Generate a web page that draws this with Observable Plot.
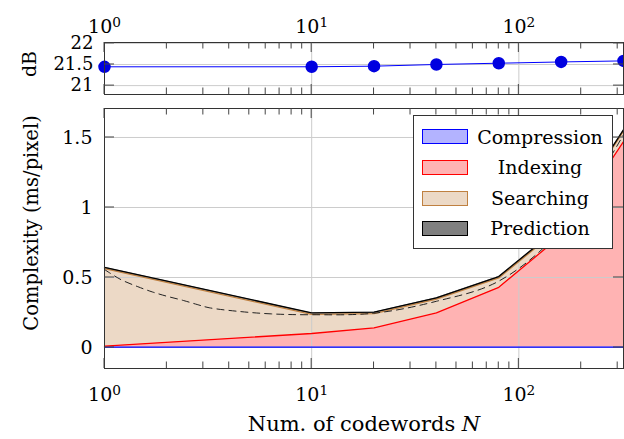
<!DOCTYPE html>
<html><head><meta charset="utf-8">
<script src="https://cdn.jsdelivr.net/npm/d3@7"></script>
<script src="https://cdn.jsdelivr.net/npm/@observablehq/plot@0.6"></script>
<style>
body{margin:0;background:#fff;}
#wrap{position:relative;width:624px;height:439px;overflow:hidden;font-family:"DejaVu Serif";background:#fff;}
#wrap svg{display:block;}
.legend{position:absolute;left:413px;top:115px;width:200px;height:134px;box-sizing:border-box;border:1px solid #333;background:#fff;}
.legend .row{position:absolute;left:0;width:100%;height:30px;}
.legend .sw{position:absolute;left:8px;top:7.5px;width:46px;height:15px;box-sizing:border-box;border:1.2px solid;}
.legend .lab{position:absolute;left:54px;right:0;top:0;height:30px;line-height:30px;text-align:center;font-size:19px;color:#000;}
.caption{position:absolute;left:0;top:410px;width:624px;height:29px;}
.caption span{position:absolute;left:364px;transform:translateX(-50%);top:0;font-size:21px;line-height:29px;white-space:nowrap;}
</style></head>
<body><div id="wrap"></div>
<script>
// ---- data ----
const N = [1, 10, 20, 40, 80, 160, 320];
const psnrDB = [21.445, 21.446, 21.46, 21.50, 21.53, 21.56, 21.585];
const compression = [0.003, 0.003, 0.003, 0.003, 0.003, 0.003, 0.003];
const indexing    = [0.007, 0.097, 0.137, 0.244, 0.427, 0.797, 1.467];
const searching   = [0.553, 0.137, 0.102, 0.098, 0.067, 0.060, 0.075];
const prediction  = [0.010, 0.010, 0.010, 0.010, 0.010, 0.010, 0.010];
const seriesNames = ["Compression", "Indexing", "Searching", "Prediction"];
const dashedN = [1, 1.2, 1.45, 1.7, 2, 2.4, 2.8, 3.2, 4.5, 6.4, 10, 20, 40, 80, 160, 320];
const dashedV = [0.557, 0.485, 0.434, 0.397, 0.366, 0.336, 0.307, 0.284, 0.257, 0.240, 0.234, 0.245, 0.33, 0.474, 0.84, 1.52];
const xMajor = [1, 10, 100];
const xMinor = [2,3,4,5,6,7,8,9,20,30,40,50,60,70,80,90,200,300];
const dbTicks = [21, 21.5, 22];
const cTicks = [0, 0.5, 1, 1.5];

const fillOf = {Compression:"#b3b3ff", Indexing:"#ffb3b3", Searching:"#ecd9c6", Prediction:"#808080"};
const strokeOf = {Compression:"#0000ff", Indexing:"#ff0000", Searching:"#bf8040", Prediction:"#000000"};

const FONT = '"DejaVu Serif"';
const FS = 19;
const GRID = "#cccccc";
const wrap = document.getElementById("wrap");

function addInwardTicks(svg, plot, yTicks) {
  const x = plot.scale("x"), y = plot.scale("y");
  const [yb, yt] = y.range, [xl, xr] = x.range;
  const g = d3.select(svg).append("g").attr("stroke", "#444").attr("stroke-width", 1).attr("fill", "none");
  const seg = (x1, y1, x2, y2) => g.append("line").attr("x1", x1).attr("y1", y1).attr("x2", x2).attr("y2", y2);
  xMinor.forEach(v => { const p = x.apply(v); seg(p, yt, p, yt + 6.5); seg(p, yb, p, yb - 6.5); });
  xMajor.forEach(v => { const p = x.apply(v); seg(p, yt, p, yt + 10); seg(p, yb, p, yb - 10); });
  yTicks.forEach(v => { const p = y.apply(v); seg(xl, p, xl + 10, p); seg(xr, p, xr - 10, p); });
}
function superscriptX(svg, shift) {
  d3.select(svg).selectAll('g[aria-label="x-axis tick label"]').attr("transform", function () {
    const t = this.getAttribute("transform") || "";
    return t + ` translate(0,${shift})`;
  });
  d3.select(svg).selectAll('g[aria-label="x-axis tick label"] text').each(function () {
    const e = this.textContent;
    const t = d3.select(this);
    t.text("10");
    t.append("tspan").attr("dy", "-0.42em").attr("font-size", "0.72em").text(e);
  });
}

// ---- top panel (dB) ----
const topRows = N.map((n, i) => ({N: n, dB: psnrDB[i]}));
const topPlot = Plot.plot({
  width: 624, height: 96, marginTop: 42, marginBottom: 2, marginLeft: 104, marginRight: 1,
  style: {fontFamily: FONT, fontSize: FS + "px", background: "white", overflow: "visible", color: "#000"},
  x: {type: "log", domain: [1, 320]},
  y: {domain: [20.79, 22.02]},
  marks: [
    Plot.gridX(xMajor, {stroke: GRID, strokeOpacity: 1}),
    Plot.gridY(dbTicks, {stroke: GRID, strokeOpacity: 1}),
    Plot.line(topRows, {x: "N", y: "dB", stroke: "#0000ff", strokeWidth: 1}),
    Plot.dot(topRows, {x: "N", y: "dB", r: 5.5, fill: "#0000e0", stroke: "#0000e0"}),
    Plot.axisY({ticks: dbTicks, tickSize: 0, tickPadding: 11, fontSize: 18, label: null, tickFormat: d => String(d)}),
    Plot.axisX({anchor: "top", ticks: xMajor, tickSize: 0, tickPadding: 10, fontSize: FS, label: null,
      tickFormat: d => String(Math.round(Math.log10(d)))}),
    Plot.frame({stroke: "#333", strokeWidth: 1})
  ]
});
addInwardTicks(topPlot, topPlot, dbTicks);
superscriptX(topPlot, 0);
d3.select(topPlot).append("text").attr("transform", "translate(36,64) rotate(-90)")
  .attr("text-anchor", "middle").attr("font-size", FS).attr("fill", "#000").text("dB");
wrap.appendChild(topPlot);

// ---- bottom panel (complexity) ----
const series = [compression, indexing, searching, prediction];
const rows = [];
seriesNames.forEach((s, k) => N.forEach((n, i) => rows.push({N: n, series: s, value: series[k][i]})));
const dashRows = dashedN.map((n, i) => ({N: n, v: dashedV[i]}));

const botPlot = Plot.plot({
  width: 624, height: 316, marginTop: 12, marginBottom: 44, marginLeft: 104, marginRight: 1,
  style: {fontFamily: FONT, fontSize: FS + "px", background: "white", overflow: "visible", color: "#000"},
  x: {type: "log", domain: [1, 320]},
  y: {domain: [-0.15, 1.707]},
  marks: [
    Plot.areaY(rows, Plot.stackY({x: "N", y: "value", z: "series", order: seriesNames, fill: d => fillOf[d.series]})),
    Plot.gridX(xMajor, {stroke: GRID, strokeOpacity: 1}),
    Plot.gridY(cTicks, {stroke: GRID, strokeOpacity: 1}),
    Plot.lineY(rows, Plot.stackY2({x: "N", y: "value", z: "series", order: seriesNames, stroke: d => strokeOf[d.series], strokeWidth: 1.3})),
    Plot.line(dashRows, {x: "N", y: "v", stroke: "#222", strokeWidth: 1, strokeDasharray: "7,5", curve: "catmull-rom"}),
    Plot.axisY({ticks: cTicks, tickSize: 0, tickPadding: 12, fontSize: FS, label: null, tickFormat: d => String(d)}),
    Plot.axisX({anchor: "bottom", ticks: xMajor, tickSize: 0, tickPadding: 12, fontSize: FS, label: null,
      tickFormat: d => String(Math.round(Math.log10(d)))}),
    Plot.frame({stroke: "#333", strokeWidth: 1})
  ]
});
addInwardTicks(botPlot, botPlot, cTicks);
superscriptX(botPlot, 7);
d3.select(botPlot).append("text").attr("transform", "translate(38,127) rotate(-90)")
  .attr("text-anchor", "middle").attr("font-size", 19.5).attr("fill", "#000").text("Complexity (ms/pixel)");
wrap.appendChild(botPlot);

// ---- legend ----
const leg = document.createElement("div");
leg.className = "legend";
const rowTops = [5.5, 36, 67, 97];
seriesNames.forEach((s, i) => {
  const r = document.createElement("div");
  r.className = "row";
  r.style.top = rowTops[i] + "px";
  const sw = document.createElement("div");
  sw.className = "sw";
  sw.style.background = fillOf[s];
  sw.style.borderColor = strokeOf[s];
  const lab = document.createElement("div");
  lab.className = "lab";
  lab.textContent = s;
  r.appendChild(sw); r.appendChild(lab);
  leg.appendChild(r);
});
wrap.appendChild(leg);

// ---- x-axis title ----
const cap = document.createElement("div");
cap.className = "caption";
cap.innerHTML = '<span>Num. of codewords <i>N</i></span>';
wrap.appendChild(cap);
</script>
</body></html>
